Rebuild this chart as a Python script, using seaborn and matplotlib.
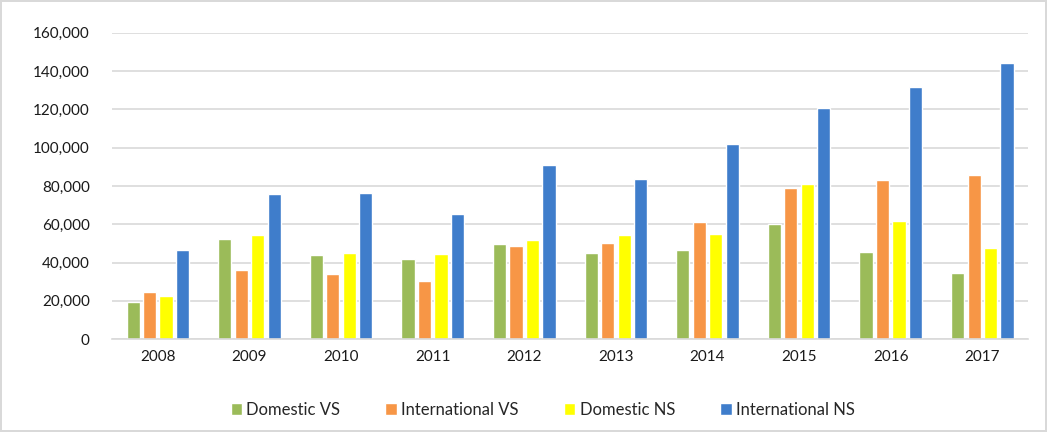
import matplotlib
matplotlib.use("Agg")
import matplotlib.pyplot as plt
import seaborn as sns
import pandas as pd
from matplotlib.ticker import FuncFormatter

years = ["2008", "2009", "2010", "2011", "2012", "2013", "2014", "2015", "2016", "2017"]
series_names = ["Domestic VS", "International VS", "Domestic NS", "International NS"]
domestic_vs = [19500, 52500, 44200, 41700, 49900, 45000, 46300, 60200, 45400, 34300]
international_vs = [24700, 36300, 34100, 30300, 48500, 50100, 61200, 79000, 83300, 85700]
domestic_ns = [22400, 54600, 45000, 44700, 51800, 54600, 55100, 81200, 61900, 47600]
international_ns = [46800, 75800, 76300, 65600, 90800, 83500, 101900, 120500, 131500, 144300]
colors = ["#9BBB59", "#F79646", "#FFFF00", "#3F7DCB"]

rows = []
for name, vals in zip(series_names, [domestic_vs, international_vs, domestic_ns, international_ns]):
    for y, v in zip(years, vals):
        rows.append({"Year": y, "Series": name, "Value": v})
df = pd.DataFrame(rows)

sns.set_theme(style="white")
plt.rcParams["font.family"] = ["Lato", "DejaVu Sans"]

fig = plt.figure(figsize=(10.47, 4.32), dpi=100)
fig.patch.set_edgecolor("#d9d9d9")
fig.patch.set_linewidth(1.5)
ax = fig.add_axes([0.107, 0.215, 0.875, 0.709])

sns.barplot(data=df, x="Year", y="Value", hue="Series", hue_order=series_names,
            order=years, palette=colors, width=0.72, gap=0.2, ax=ax,
            saturation=1, legend=True, errorbar=None)

ax.set_ylim(0, 160000)
ax.set_yticks(range(0, 160001, 20000))
ax.yaxis.set_major_formatter(FuncFormatter(lambda v, p: f"{int(v):,}"))
ax.set_xlim(-0.5, 9.5)
ax.grid(axis="y", color="#d9d9d9", linewidth=1.2)
ax.set_axisbelow(True)
for s in ["top", "right", "left"]:
    ax.spines[s].set_visible(False)
ax.spines["bottom"].set_color("#d9d9d9")
ax.spines["bottom"].set_linewidth(1.2)
ax.set_xlabel("")
ax.set_ylabel("")
ax.tick_params(axis="both", length=0, labelsize=11, colors="#1a1a1a", pad=8)
ax.tick_params(axis="y", pad=16)

ax.legend(loc="upper center", bbox_to_anchor=(0.47, -0.155), ncol=4, frameon=False,
          fontsize=12, handlelength=0.7, handleheight=0.7, handletextpad=0.25,
          columnspacing=2.7)

fig.savefig("out.png", dpi=100)
